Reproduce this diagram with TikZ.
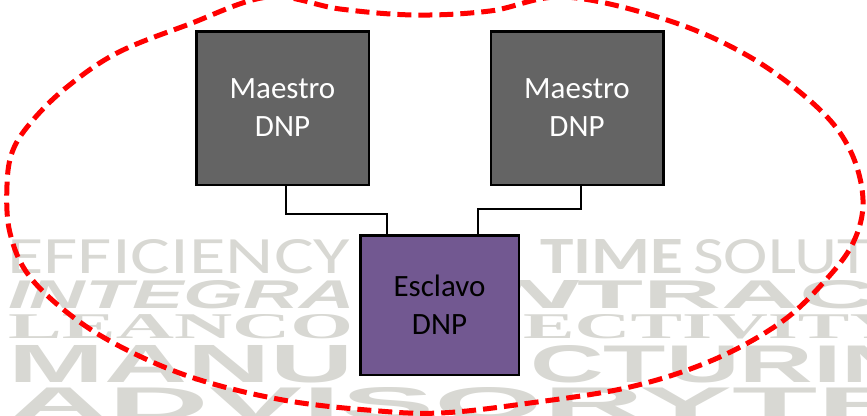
\documentclass[tikz,border=0pt]{standalone}
\usepackage{fontspec}
\setmainfont{Carlito}
\newfontfamily\wmsans{Liberation Sans}
\newfontfamily\wmserif{Liberation Serif}
\usepackage{graphicx}
\usetikzlibrary{positioning}
\definecolor{maestrogris}{RGB}{100,100,100}
\definecolor{esclavolila}{RGB}{114,88,145}
\definecolor{marcagris}{RGB}{216,216,211}

\begin{document}
\begin{tikzpicture}[x=1pt, y=-1pt,
    maestro/.style={draw=black, line width=2.5pt, rectangle, fill=maestrogris, text=white, minimum width=172.5pt, minimum height=153.5pt, align=center, font=\fontsize{31}{38}\selectfont},
    esclavo/.style={maestro, fill=esclavolila, text=black, minimum width=158.5pt, minimum height=139.5pt},
    edge/.style={line width=2.5pt},
    ring/.style={draw=red, line width=5pt, dash pattern=on 14pt off 7pt},
    wm/.style={anchor=north west, inner sep=0pt, text=marcagris}
]
\useasboundingbox (0,0) rectangle (867,415);
\begin{scope}
\clip (0,0) rectangle (867,415);

% Hintergrund
\node[wm] (w1a) at (7,239) {\resizebox{343pt}{34pt}{EFFICIENCY}};
\node[wm] (w1b) at (540,239) {\resizebox{143pt}{34pt}{\bfseries TIME}};
\node[wm] (w1c) at (693,239) {\resizebox{177pt}{34pt}{SOLUT}};
\node[wm] (w2a) at (8,280) {\resizebox{347pt}{28pt}{\wmsans\bfseries\itshape INTEGRA}};
\node[wm] (w2b) at (492,280) {\resizebox{85pt}{28pt}{\wmsans\bfseries\itshape N}};
\node[wm] (w2c) at (577,280) {\resizebox{300pt}{28pt}{\wmsans\bfseries TRAC}};
\node[wm] (w3a) at (8,314) {\resizebox{345pt}{24pt}{\wmserif\bfseries LEANCO}};
\node[wm] (w3b) at (523,314) {\resizebox{382pt}{24pt}{\wmserif\bfseries ECTIVITY}};
\node[wm] (w4a) at (8,345) {\resizebox{345pt}{37pt}{\wmsans\bfseries MANU}};
\node[wm] (w4b) at (530,345) {\resizebox{385pt}{37pt}{\wmsans\bfseries CTURIN}};
\node[wm] (w5) at (8,387) {\resizebox{910pt}{32pt}{\wmsans\bfseries ADVISORYTR}};

% Ring
\draw[ring] plot[smooth cycle, tension=0.6] coordinates {(268,-3) (187,25) (117,53) (67,87) (33,120) (13,150) (7,185) (10,233) (30,277) (77,320) (133,353) (200,380) (283,400) (367,410) (440,413) (530,403) (630,387) (713,360) (780,323) (823,283) (853,243) (863,200) (850,150) (817,107) (750,57) (667,20) (565,-3) (490,11) (415,15) (340,9)};
\end{scope}

% Knoten
\node[maestro] (m1) at (282.5,108) {Maestro\\DNP};
\node[maestro, right=119.5pt of m1] (m2) {Maestro\\DNP};
\node[esclavo] (esc) at (439.5,305) {Esclavo\\DNP};

% Kanten zwischen Knoten
\draw[edge] ([xshift=3.5pt]m1.south) -- ++(0,28) -| ([xshift=-52.5pt]esc.north);
\draw[edge] ([xshift=4pt]m2.south) -- ++(0,23) -| ([xshift=38.5pt]esc.north);

\end{tikzpicture}
\end{document}
